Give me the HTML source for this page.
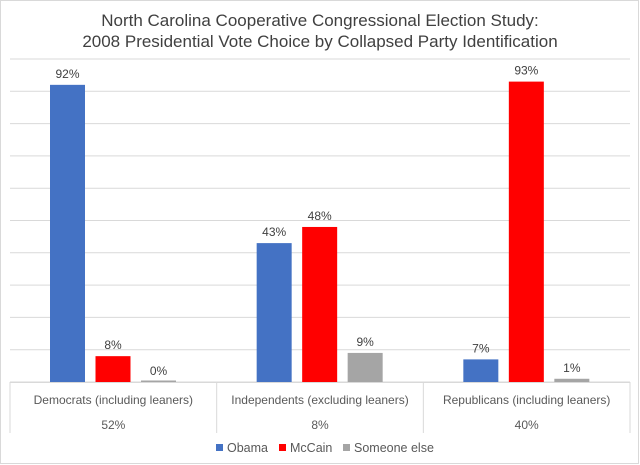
<!DOCTYPE html>
<html><head><meta charset="utf-8"><style>
body{margin:0;background:#fff}
svg{display:block;font-family:"Liberation Sans",Calibri,sans-serif}
</style></head><body>
<svg id="chart" width="640" height="465">
<rect x="0.5" y="0.5" width="638" height="463" fill="#fff" stroke="#d9d9d9"/>
<text x="320" y="26" text-anchor="middle" font-size="17" fill="#404040">North Carolina Cooperative Congressional Election Study:</text>
<text x="320" y="47" text-anchor="middle" font-size="17" fill="#404040">2008 Presidential Vote Choice by Collapsed Party Identification</text>
<g id="grid"></g><g id="bars"></g><g id="table"></g><g id="legend"></g>
</svg>
<script>
const categories=["Democrats (including leaners)","Independents (excluding leaners)","Republicans (including leaners)"];
const shares=["52%","8%","40%"];
const obama=[92,43,7];
const mccain=[8,48,93];
const someone=[0,9,1];
const seriesNames=["Obama","McCain","Someone else"];
const colors=["#4472c4","#ff0000","#a5a5a5"];
const NS="http://www.w3.org/2000/svg";
const L=10,R=630,T=59,B=382;
const y=v=>B-(v/100)*(B-T);
const gw=(R-L)/categories.length;
function mk(t,a,p){const e=document.createElementNS(NS,t);for(const k in a)e.setAttribute(k,a[k]);p.appendChild(e);return e;}
const grid=document.getElementById('grid');
for(let v=0;v<=100;v+=10){
 const ln=mk('line',{x1:L,x2:R,y1:y(v),y2:y(v),stroke:'#d9d9d9','stroke-width':1},grid);
 
 
}
const bars=document.getElementById('bars');
const series=[obama,mccain,someone];
categories.forEach((c,i)=>{
 series.forEach((s,j)=>{
  const x=L+i*gw+40+j*45.5,w=35;
  const h=Math.max(B-y(s[i]),1.5);
  const r=mk('rect',{x:x,y:B-h,width:w,height:h,fill:colors[j]},bars);
  
  
  const t=mk('text',{x:x+w/2,y:y(s[i])-7,'text-anchor':'middle','font-size':12,fill:'#404040'},bars);
  t.textContent=s[i]+'%';
  
  
 });
});
const tb=document.getElementById('table');
const bl=mk('line',{x1:L,x2:R,y1:B+0.5,y2:B+0.5,stroke:'#d9d9d9'},tb);


for(let i=0;i<=categories.length;i++){
 const l=mk('line',{x1:L+i*gw,x2:L+i*gw,y1:B,y2:433,stroke:'#d9d9d9'},tb);
 
 
}
categories.forEach((c,i)=>{
 const t=mk('text',{x:L+i*gw+gw/2,y:404,'text-anchor':'middle','font-size':12,fill:'#595959'},tb);
 t.textContent=c;
 
 
 const s=mk('text',{x:L+i*gw+gw/2,y:429,'text-anchor':'middle','font-size':12,fill:'#595959'},tb);
 s.textContent=shares[i];
 
 
});
const lg=document.getElementById('legend');
const lx=[216,279,343];
seriesNames.forEach((n,j)=>{
 const r=mk('rect',{x:lx[j],y:444,width:7,height:7,fill:colors[j]},lg);
 
 
 const t=mk('text',{x:lx[j]+11,y:452,'font-size':12.5,fill:'#595959'},lg);
 t.textContent=n;
 
 
});
</script>
</body></html>
